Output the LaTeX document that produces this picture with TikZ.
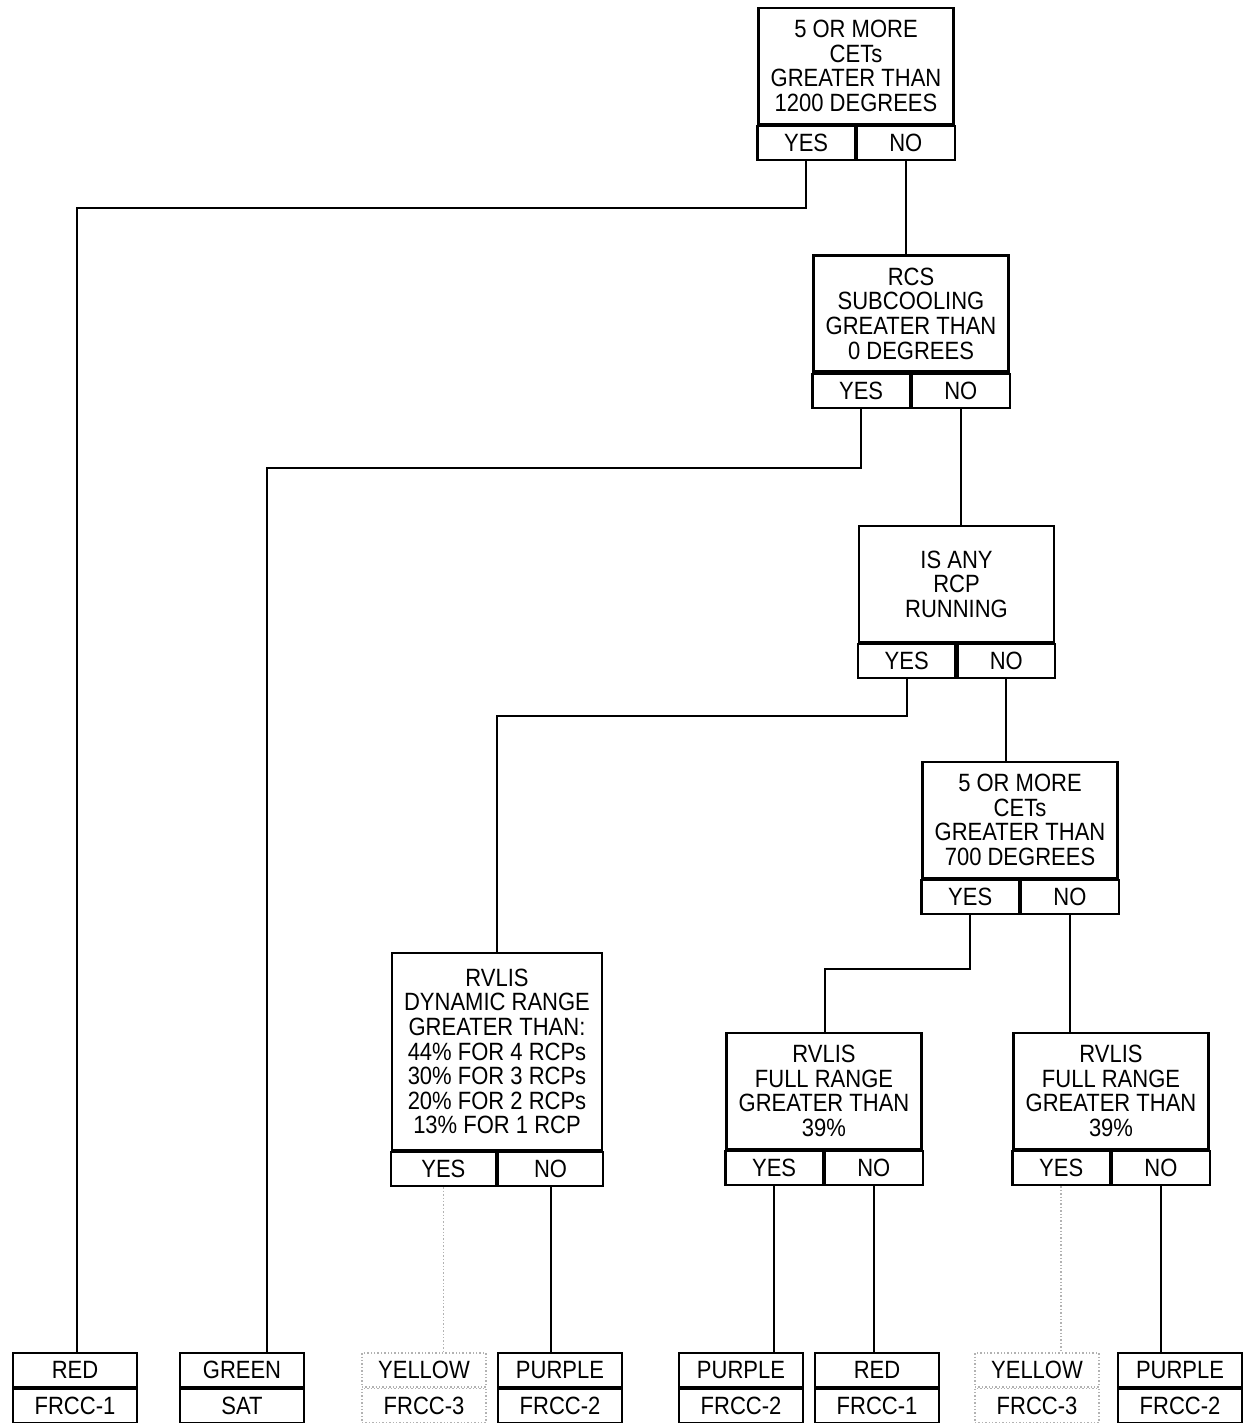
\documentclass[tikz,border=0pt]{standalone}
\usepackage{fontspec}
\setmainfont{Liberation Sans}[FakeStretch=0.88]
\usetikzlibrary{positioning}

\begin{document}
\begin{tikzpicture}[x=0.5pt,y=-0.5pt,line width=1.1pt,
		question/.style={draw,align=center,minimum width=97.5pt,minimum height=58pt,inner sep=1pt},
		answer/.style={draw,minimum width=48.75pt,minimum height=17pt,inner sep=0pt},
		outcome/.style={draw,minimum width=62pt,minimum height=17pt,inner sep=0pt},
		faint/.style={draw=black!30,densely dotted,line width=0.7pt}]
		\tikzstyle{every node}=[font=\fontsize{12.5}{12.3}\selectfont]
		\useasboundingbox (0,0) rectangle (1249,1423);

		% decision boxes
		\node[question] (CETs 1200) at (856, 66) {5 OR MORE\\CETs\\GREATER THAN\\1200 DEGREES};
		\node[answer, anchor=north east] (CETs 1200 YES) at (CETs 1200.south) {YES};
		\node[answer, anchor=north west] (CETs 1200 NO) at (CETs 1200.south) {NO};

		\node[question] (RCS SUB) at (911, 313.5) {RCS\\SUBCOOLING\\GREATER THAN\\0 DEGREES};
		\node[answer, anchor=north east] (RCS SUB YES) at (RCS SUB.south) {YES};
		\node[answer, anchor=north west] (RCS SUB NO) at (RCS SUB.south) {NO};

		\node[question] (RCP RUN) at (956.5, 584) {IS ANY\\RCP\\RUNNING};
		\node[answer, anchor=north east] (RCP RUN YES) at (RCP RUN.south) {YES};
		\node[answer, anchor=north west] (RCP RUN NO) at (RCP RUN.south) {NO};

		\node[question] (CETs 700) at (1020, 820) {5 OR MORE\\CETs\\GREATER THAN\\700 DEGREES};
		\node[answer, anchor=north east] (CETs 700 YES) at (CETs 700.south) {YES};
		\node[answer, anchor=north west] (CETs 700 NO) at (CETs 700.south) {NO};

		\node[question, minimum width=105pt, minimum height=98.5pt] (RVLIS DR) at (497, 1051.5)
			{RVLIS\\DYNAMIC RANGE\\GREATER THAN:\\44\% FOR 4 RCPs\\30\% FOR 3 RCPs\\20\% FOR 2 RCPs\\13\% FOR 1 RCP};
		\node[answer, minimum width=52.5pt, anchor=north east] (RVLIS DR YES) at (RVLIS DR.south) {YES};
		\node[answer, minimum width=52.5pt, anchor=north west] (RVLIS DR NO) at (RVLIS DR.south) {NO};

		\node[question] (RVLIS FR1) at (824, 1091) {RVLIS\\FULL RANGE\\GREATER THAN\\39\%};
		\node[answer, anchor=north east] (RVLIS FR1 YES) at (RVLIS FR1.south) {YES};
		\node[answer, anchor=north west] (RVLIS FR1 NO) at (RVLIS FR1.south) {NO};

		\node[question] (RVLIS FR2) at (1111, 1091) {RVLIS\\FULL RANGE\\GREATER THAN\\39\%};
		\node[answer, anchor=north east] (RVLIS FR2 YES) at (RVLIS FR2.south) {YES};
		\node[answer, anchor=north west] (RVLIS FR2 NO) at (RVLIS FR2.south) {NO};

		% end states
		\node[outcome] (RED1) at (75, 1370) {RED};
		\node[outcome, anchor=north] (FRCC1 a) at (RED1.south) {FRCC-1};
		\node[outcome] (GREEN) at (242, 1370) {GREEN};
		\node[outcome, anchor=north] (SAT) at (GREEN.south) {SAT};
		\node[outcome, faint] (YELLOW1) at (424, 1370) {YELLOW};
		\node[outcome, faint, anchor=north] (FRCC3 a) at (YELLOW1.south) {FRCC-3};
		\node[outcome] (PURPLE1) at (560, 1370) {PURPLE};
		\node[outcome, anchor=north] (FRCC2 a) at (PURPLE1.south) {FRCC-2};
		\node[outcome] (PURPLE2) at (741, 1370) {PURPLE};
		\node[outcome, anchor=north] (FRCC2 b) at (PURPLE2.south) {FRCC-2};
		\node[outcome] (RED2) at (877, 1370) {RED};
		\node[outcome, anchor=north] (FRCC1 b) at (RED2.south) {FRCC-1};
		\node[outcome, faint] (YELLOW2) at (1037, 1370) {YELLOW};
		\node[outcome, faint, anchor=north] (FRCC3 b) at (YELLOW2.south) {FRCC-3};
		\node[outcome] (PURPLE3) at (1180, 1370) {PURPLE};
		\node[outcome, anchor=north] (FRCC2 c) at (PURPLE3.south) {FRCC-2};

		% bends
		\coordinate (bend1) at (77, 208);
		\coordinate (bend2) at (267, 468);
		\coordinate (bend3) at (497, 716);
		\coordinate (bend4) at (825, 969);

		\draw (CETs 1200 YES.south) |- (bend1) -- (bend1 |- RED1.north);
		\draw (CETs 1200 NO.south) -- (CETs 1200 NO.south |- RCS SUB.north);
		\draw (RCS SUB YES.south) |- (bend2) -- (bend2 |- GREEN.north);
		\draw (RCS SUB NO.south) -- (RCS SUB NO.south |- RCP RUN.north);
		\draw (RCP RUN YES.south) |- (bend3) -- (bend3 |- RVLIS DR.north);
		\draw (RCP RUN NO.south) -- (RCP RUN NO.south |- CETs 700.north);
		\draw (CETs 700 YES.south) |- (bend4) -- (bend4 |- RVLIS FR1.north);
		\draw (CETs 700 NO.south) -- (CETs 700 NO.south |- RVLIS FR2.north);
		\draw[faint] (RVLIS DR YES.south) -- (RVLIS DR YES.south |- YELLOW1.north);
		\draw (RVLIS DR NO.south) -- (RVLIS DR NO.south |- PURPLE1.north);
		\draw (RVLIS FR1 YES.south) -- (RVLIS FR1 YES.south |- PURPLE2.north);
		\draw (RVLIS FR1 NO.south) -- (RVLIS FR1 NO.south |- RED2.north);
		\draw[faint] (RVLIS FR2 YES.south) -- (RVLIS FR2 YES.south |- YELLOW2.north);
		\draw (RVLIS FR2 NO.south) -- (RVLIS FR2 NO.south |- PURPLE3.north);
	\end{tikzpicture}
\end{document}
